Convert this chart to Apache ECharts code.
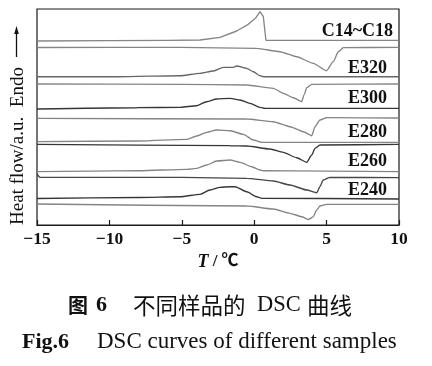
<!DOCTYPE html>
<html>
<head>
<meta charset="utf-8">
<script src="https://cdn.jsdelivr.net/npm/echarts@6/dist/echarts.min.js"></script>
<style>
html,body{margin:0;padding:0;background:#fff;}
#chart{width:432px;height:366px;}
</style>
</head>
<body>
<div id="chart"></div>
<script>
// ---- data: [T (°C), heat flow (a.u., offset per curve)] ----
var xTicks = [-15, -10, -5, 0, 5, 10];
var sampleLabels = ['C14~C18', 'E320', 'E300', 'E280', 'E260', 'E240'];

var c14Cool = [[-15,184],[-10,184.3],[-6,184.7],[-3.74,185],[-2.36,187.7],[-1.21,194],[-0.41,200.7],[0.12,207.3],[0.40,213.3],[0.63,208.3],[0.81,184.7],[10,184.7]];
var c14Heat = [[-15,177.5],[-5.1,177.7],[0.17,176.7],[1.78,173.3],[2.93,168.3],[4.08,161.7],[5.0,154.3],[5.46,163.3],[5.81,173.3],[6.15,177.3],[10,177.7]];
var e320Cool = [[-15,148.3],[-9.5,148.3],[-5.1,149.3],[-3.74,151.7],[-2.82,154],[-2.13,157.7],[-1.44,157.7],[-1.21,159],[-0.52,156.7],[-0.06,153.3],[0.4,149.3],[0.63,148.3],[10,148.3]];
var e320Heat = [[-15,141],[-5.1,140.7],[-0.52,140],[1.32,136.7],[2.01,131.7],[2.7,127.3],[3.28,123.3],[3.44,130],[3.63,137.3],[3.97,140.7],[10,141]];
var e300Cool = [[-15,116],[-8.1,117.3],[-5.1,117.7],[-3.97,119.3],[-3.28,123.3],[-2.59,126],[-1.67,126.7],[-0.98,125],[-0.29,121.7],[0.4,117.7],[0.75,116.7],[10,116.7]];
var e300Heat = [[-15,106.7],[-0.52,106],[1.32,103.3],[2.47,98.3],[3.39,93.3],[3.97,89.3],[4.2,98.3],[4.54,105],[5.0,107.3],[10,107]];
var e280Cool = [[-15,83.3],[-8,84],[-4.64,85.7],[-3.97,89],[-3.28,92.7],[-2.59,95],[-1.67,94.3],[-0.75,90.7],[-0.06,85],[0.52,82.7],[10,82.7]];
var e260Heat = [[-15,80.7],[-1.67,79.3],[-0.52,79],[1.09,76],[2.01,72.7],[2.93,67.3],[3.63,62.7],[3.97,70],[4.2,76.7],[4.54,80],[10,80.7]];
var e260Cool = [[-15,53.3],[-8,54.3],[-4.64,55.7],[-3.97,56.7],[-3.28,60],[-2.59,64],[-1.67,65],[-0.98,62.7],[-0.17,58.3],[0.4,55],[0.63,54.3],[10,53.3]];
var e240Heat = [[-15,51],[-14.8,47.7],[-5,47.7],[-0.52,46.7],[1.32,44],[2.47,40],[3.63,35],[4.32,32.3],[4.54,38.3],[4.77,45],[5.23,47.7],[10,47.3]];
var e240Cool = [[-15,26.5],[-8,27.5],[-5.12,28.3],[-3.74,30.7],[-3.05,35],[-2.36,37.7],[-1.67,38.3],[-1.33,38.3],[-0.52,33.3],[0.17,28.3],[0.52,26.7],[10,26]];
var baseHeat = [[-15,21],[-0.52,19],[1.32,16],[2.47,11.7],[3.28,8.3],[3.74,5.5],[4.08,8.3],[4.32,15],[4.54,19],[5.0,20.7],[10,20.7]];

var GRAY = '#858585', MID = '#666666', DARK = '#363636';
var curves = [
  {d: c14Cool, c: GRAY, s: false},
  {d: c14Heat, c: GRAY, s: 0.2},
  {d: e320Cool, c: MID, s: 0.25},
  {d: e320Heat, c: GRAY, s: 0.2},
  {d: e300Cool, c: DARK, s: 0.25},
  {d: e300Heat, c: GRAY, s: 0.2},
  {d: e280Cool, c: GRAY, s: 0.25},
  {d: e260Heat, c: DARK, s: 0.2},
  {d: e260Cool, c: GRAY, s: 0.25},
  {d: e240Heat, c: '#474747', s: 0.2},
  {d: e240Cool, c: DARK, s: 0.25},
  {d: baseHeat, c: GRAY, s: 0.2}
];

var SERIF = '"Liberation Serif", "Times New Roman", serif';
var CJK = '"Noto Sans CJK SC", sans-serif';

var chart = echarts.init(document.getElementById('chart'), null, {renderer: 'canvas'});
var labelY = [31, 68, 98, 132, 161, 190];
var labelX = [393, 387, 387, 387, 387, 387];

var graphics = [];
sampleLabels.forEach(function (t, i) {
  graphics.push({type: 'text', x: labelX[i], y: labelY[i], z: 10,
    style: {text: t, font: 'bold 18px ' + SERIF, fill: '#111', textAlign: 'right', textVerticalAlign: 'middle'}});
});
// y axis title
graphics.push({type: 'text', x: 18.5, y: 146, rotation: Math.PI / 2,
  style: {text: 'Heat flow/a.u.  Endo', font: '19px ' + SERIF, fill: '#111', textAlign: 'center', textVerticalAlign: 'middle'}});
graphics.push({type: 'line', shape: {x1: 16.5, y1: 57, x2: 16.5, y2: 32}, style: {stroke: '#111', lineWidth: 1.3}});
graphics.push({type: 'polygon', shape: {points: [[16.5, 26], [14.2, 34], [18.8, 34]]}, style: {fill: '#111'}});
// captions
graphics.push({type: 'text', x: 68, y: 305, style: {text: '图', font: 'bold 20px ' + CJK, fill: '#111', textVerticalAlign: 'middle'}});
graphics.push({type: 'text', x: 96, y: 305, style: {text: '6', font: 'bold 22px ' + SERIF, fill: '#111', textVerticalAlign: 'middle'}});
graphics.push({type: 'text', x: 133, y: 305, style: {text: '不同样品的', font: '22.5px ' + CJK, fill: '#111', textVerticalAlign: 'middle'}});
graphics.push({type: 'text', x: 257, y: 305, style: {text: 'DSC', font: '22.5px ' + SERIF, fill: '#111', textVerticalAlign: 'middle'}});
graphics.push({type: 'text', x: 307, y: 305, style: {text: '曲线', font: '22.5px ' + CJK, fill: '#111', textVerticalAlign: 'middle'}});
graphics.push({type: 'text', x: 22, y: 342, style: {text: 'Fig.6', font: 'bold 22px ' + SERIF, fill: '#111', textVerticalAlign: 'middle'}});
graphics.push({type: 'text', x: 97, y: 342, style: {text: 'DSC curves of different samples', font: '23px ' + SERIF, fill: '#111', textVerticalAlign: 'middle'}});

var option = {
  animation: false,
  backgroundColor: '#fff',
  grid: {left: 37, right: 33, top: 9, bottom: 141, show: true, borderColor: '#1a1a1a', borderWidth: 1.2, backgroundColor: 'transparent'},
  xAxis: {
    type: 'value', min: xTicks[0], max: xTicks[xTicks.length - 1], interval: 5,
    axisLine: {show: true, lineStyle: {color: '#1a1a1a', width: 1.2}},
    axisTick: {show: true, inside: true, length: 5, lineStyle: {color: '#1a1a1a', width: 1.2}},
    splitLine: {show: false},
    axisLabel: {margin: 5, color: '#111', fontFamily: SERIF, fontSize: 17.5, fontWeight: 'bold',
      formatter: function (v) { return v < 0 ? '\u2212' + Math.abs(v) : String(v); }},
    name: '{i|T}{n| / ℃}', nameLocation: 'middle', nameGap: 27,
    nameTextStyle: {rich: {
      i: {fontFamily: SERIF, fontStyle: 'italic', fontWeight: 'bold', fontSize: 18, color: '#111'},
      n: {fontFamily: '"Liberation Serif", "Noto Sans CJK SC"', fontWeight: 'bold', fontSize: 17, color: '#111'}
    }}
  },
  yAxis: {
    type: 'value', min: 0, max: 216,
    axisLine: {show: false}, axisTick: {show: false}, axisLabel: {show: false}, splitLine: {show: false}
  },
  series: curves.map(function (c) {
    return {type: 'line', data: c.d, smooth: c.s, smoothMonotone: 'x', showSymbol: false, symbol: 'none',
      lineStyle: {color: c.c, width: 1.35}, clip: true};
  }),
  graphic: graphics
};
chart.setOption(option);
</script>
</body>
</html>
